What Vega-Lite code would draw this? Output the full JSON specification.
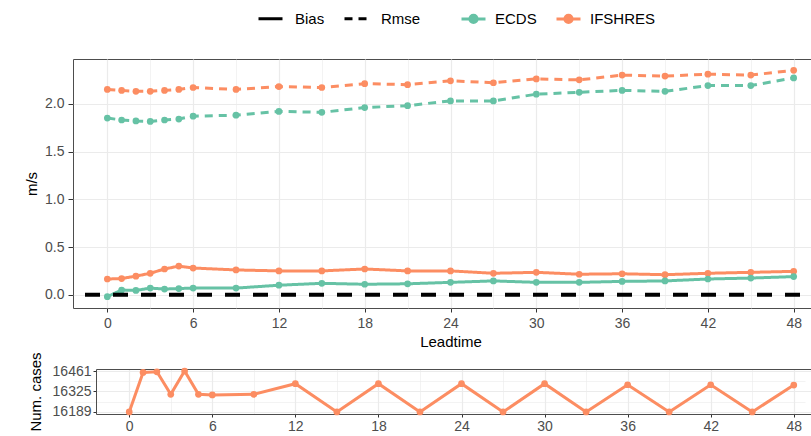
{
  "$schema": "https://vega.github.io/schema/vega-lite/v6.json",
  "padding": {"left": 24, "top": 5, "right": 0, "bottom": 0},
  "background": "white",
  "spacing": 1,
  "config": {
    "font": "Liberation Sans",
    "view": {"stroke": null},
    "axis": {
      "labelFontSize": 14,
      "labelColor": "#4d4d4d",
      "titleFontSize": 15,
      "titleColor": "black",
      "titleFontWeight": "normal",
      "tickColor": "#333333",
      "tickWidth": 1,
      "gridColor": "#ebebeb",
      "domainColor": "#4d4d4d",
      "domainWidth": 1
    }
  },
  "datasets": {
    "scores": [
      {"leadtime":0,"model":"IFSHRES","metric":"Rmse","value":2.15},
      {"leadtime":1,"model":"IFSHRES","metric":"Rmse","value":2.14},
      {"leadtime":2,"model":"IFSHRES","metric":"Rmse","value":2.13},
      {"leadtime":3,"model":"IFSHRES","metric":"Rmse","value":2.13},
      {"leadtime":4,"model":"IFSHRES","metric":"Rmse","value":2.14},
      {"leadtime":5,"model":"IFSHRES","metric":"Rmse","value":2.15},
      {"leadtime":6,"model":"IFSHRES","metric":"Rmse","value":2.17},
      {"leadtime":9,"model":"IFSHRES","metric":"Rmse","value":2.15},
      {"leadtime":12,"model":"IFSHRES","metric":"Rmse","value":2.18},
      {"leadtime":15,"model":"IFSHRES","metric":"Rmse","value":2.17},
      {"leadtime":18,"model":"IFSHRES","metric":"Rmse","value":2.21},
      {"leadtime":21,"model":"IFSHRES","metric":"Rmse","value":2.20},
      {"leadtime":24,"model":"IFSHRES","metric":"Rmse","value":2.24},
      {"leadtime":27,"model":"IFSHRES","metric":"Rmse","value":2.22},
      {"leadtime":30,"model":"IFSHRES","metric":"Rmse","value":2.26},
      {"leadtime":33,"model":"IFSHRES","metric":"Rmse","value":2.25},
      {"leadtime":36,"model":"IFSHRES","metric":"Rmse","value":2.30},
      {"leadtime":39,"model":"IFSHRES","metric":"Rmse","value":2.29},
      {"leadtime":42,"model":"IFSHRES","metric":"Rmse","value":2.31},
      {"leadtime":45,"model":"IFSHRES","metric":"Rmse","value":2.30},
      {"leadtime":48,"model":"IFSHRES","metric":"Rmse","value":2.35},
      {"leadtime":0,"model":"ECDS","metric":"Rmse","value":1.85},
      {"leadtime":1,"model":"ECDS","metric":"Rmse","value":1.83},
      {"leadtime":2,"model":"ECDS","metric":"Rmse","value":1.82},
      {"leadtime":3,"model":"ECDS","metric":"Rmse","value":1.815},
      {"leadtime":4,"model":"ECDS","metric":"Rmse","value":1.83},
      {"leadtime":5,"model":"ECDS","metric":"Rmse","value":1.84},
      {"leadtime":6,"model":"ECDS","metric":"Rmse","value":1.87},
      {"leadtime":9,"model":"ECDS","metric":"Rmse","value":1.88},
      {"leadtime":12,"model":"ECDS","metric":"Rmse","value":1.92},
      {"leadtime":15,"model":"ECDS","metric":"Rmse","value":1.91},
      {"leadtime":18,"model":"ECDS","metric":"Rmse","value":1.96},
      {"leadtime":21,"model":"ECDS","metric":"Rmse","value":1.98},
      {"leadtime":24,"model":"ECDS","metric":"Rmse","value":2.03},
      {"leadtime":27,"model":"ECDS","metric":"Rmse","value":2.03},
      {"leadtime":30,"model":"ECDS","metric":"Rmse","value":2.10},
      {"leadtime":33,"model":"ECDS","metric":"Rmse","value":2.12},
      {"leadtime":36,"model":"ECDS","metric":"Rmse","value":2.14},
      {"leadtime":39,"model":"ECDS","metric":"Rmse","value":2.13},
      {"leadtime":42,"model":"ECDS","metric":"Rmse","value":2.19},
      {"leadtime":45,"model":"ECDS","metric":"Rmse","value":2.19},
      {"leadtime":48,"model":"ECDS","metric":"Rmse","value":2.27},
      {"leadtime":0,"model":"IFSHRES","metric":"Bias","value":0.165},
      {"leadtime":1,"model":"IFSHRES","metric":"Bias","value":0.17},
      {"leadtime":2,"model":"IFSHRES","metric":"Bias","value":0.195},
      {"leadtime":3,"model":"IFSHRES","metric":"Bias","value":0.225},
      {"leadtime":4,"model":"IFSHRES","metric":"Bias","value":0.27},
      {"leadtime":5,"model":"IFSHRES","metric":"Bias","value":0.30},
      {"leadtime":6,"model":"IFSHRES","metric":"Bias","value":0.28},
      {"leadtime":9,"model":"IFSHRES","metric":"Bias","value":0.26},
      {"leadtime":12,"model":"IFSHRES","metric":"Bias","value":0.25},
      {"leadtime":15,"model":"IFSHRES","metric":"Bias","value":0.25},
      {"leadtime":18,"model":"IFSHRES","metric":"Bias","value":0.27},
      {"leadtime":21,"model":"IFSHRES","metric":"Bias","value":0.25},
      {"leadtime":24,"model":"IFSHRES","metric":"Bias","value":0.25},
      {"leadtime":27,"model":"IFSHRES","metric":"Bias","value":0.225},
      {"leadtime":30,"model":"IFSHRES","metric":"Bias","value":0.235},
      {"leadtime":33,"model":"IFSHRES","metric":"Bias","value":0.215},
      {"leadtime":36,"model":"IFSHRES","metric":"Bias","value":0.22},
      {"leadtime":39,"model":"IFSHRES","metric":"Bias","value":0.21},
      {"leadtime":42,"model":"IFSHRES","metric":"Bias","value":0.225},
      {"leadtime":45,"model":"IFSHRES","metric":"Bias","value":0.235},
      {"leadtime":48,"model":"IFSHRES","metric":"Bias","value":0.245},
      {"leadtime":0,"model":"ECDS","metric":"Bias","value":-0.02},
      {"leadtime":1,"model":"ECDS","metric":"Bias","value":0.05},
      {"leadtime":2,"model":"ECDS","metric":"Bias","value":0.045},
      {"leadtime":3,"model":"ECDS","metric":"Bias","value":0.07},
      {"leadtime":4,"model":"ECDS","metric":"Bias","value":0.06},
      {"leadtime":5,"model":"ECDS","metric":"Bias","value":0.065},
      {"leadtime":6,"model":"ECDS","metric":"Bias","value":0.07},
      {"leadtime":9,"model":"ECDS","metric":"Bias","value":0.07},
      {"leadtime":12,"model":"ECDS","metric":"Bias","value":0.10},
      {"leadtime":15,"model":"ECDS","metric":"Bias","value":0.12},
      {"leadtime":18,"model":"ECDS","metric":"Bias","value":0.11},
      {"leadtime":21,"model":"ECDS","metric":"Bias","value":0.115},
      {"leadtime":24,"model":"ECDS","metric":"Bias","value":0.13},
      {"leadtime":27,"model":"ECDS","metric":"Bias","value":0.145},
      {"leadtime":30,"model":"ECDS","metric":"Bias","value":0.13},
      {"leadtime":33,"model":"ECDS","metric":"Bias","value":0.13},
      {"leadtime":36,"model":"ECDS","metric":"Bias","value":0.14},
      {"leadtime":39,"model":"ECDS","metric":"Bias","value":0.145},
      {"leadtime":42,"model":"ECDS","metric":"Bias","value":0.165},
      {"leadtime":45,"model":"ECDS","metric":"Bias","value":0.175},
      {"leadtime":48,"model":"ECDS","metric":"Bias","value":0.19}
    ],
    "zero": [{"value": 0}],
    "cases": [
      {"leadtime":0,"model":"IFSHRES","cases":16189},
      {"leadtime":1,"model":"IFSHRES","cases":16452},
      {"leadtime":2,"model":"IFSHRES","cases":16456},
      {"leadtime":3,"model":"IFSHRES","cases":16306},
      {"leadtime":4,"model":"IFSHRES","cases":16461},
      {"leadtime":5,"model":"IFSHRES","cases":16306},
      {"leadtime":6,"model":"IFSHRES","cases":16302},
      {"leadtime":9,"model":"IFSHRES","cases":16306},
      {"leadtime":12,"model":"IFSHRES","cases":16377},
      {"leadtime":15,"model":"IFSHRES","cases":16189},
      {"leadtime":18,"model":"IFSHRES","cases":16377},
      {"leadtime":21,"model":"IFSHRES","cases":16189},
      {"leadtime":24,"model":"IFSHRES","cases":16377},
      {"leadtime":27,"model":"IFSHRES","cases":16189},
      {"leadtime":30,"model":"IFSHRES","cases":16377},
      {"leadtime":33,"model":"IFSHRES","cases":16189},
      {"leadtime":36,"model":"IFSHRES","cases":16370},
      {"leadtime":39,"model":"IFSHRES","cases":16189},
      {"leadtime":42,"model":"IFSHRES","cases":16370},
      {"leadtime":45,"model":"IFSHRES","cases":16189},
      {"leadtime":48,"model":"IFSHRES","cases":16368}
    ]
  },
  "vconcat": [
    {
      "width": 755,
      "height": 249,
      "view": {"stroke": "#4d4d4d", "strokeWidth": 1},
      "layer": [
        {
          "data": {"name": "scores"},
          "mark": {"type": "line", "strokeWidth": 3},
          "encoding": {
            "x": {
              "field": "leadtime", "type": "quantitative",
              "scale": {"domain": [-2.4, 50.4], "nice": false, "zero": false},
              "axis": {
                "title": "Leadtime",
                "domain": false,
                "labelOverlap": false,
                "values": [0,3,6,9,12,15,18,21,24,27,30,33,36,39,42,45,48],
                "format": "d",
                "labelExpr": "datum.value % 6 == 0 ? datum.label : ''",
                "tickOpacity": {"condition": {"test": "datum.value % 6 == 0", "value": 1}, "value": 0},
                "gridWidth": {"condition": {"test": "datum.value % 6 == 0", "value": 1.2}, "value": 0.6},
                "tickSize": 4,
                "labelPadding": 4,
                "titlePadding": 4
              }
            },
            "y": {
              "field": "value", "type": "quantitative",
              "scale": {"domain": [-0.1385, 2.4685], "nice": false, "zero": false},
              "axis": {
                "title": "m/s",
                "domain": false,
                "labelOverlap": false,
                "values": [0,0.25,0.5,0.75,1,1.25,1.5,1.75,2,2.25],
                "format": ".1f",
                "labelExpr": "(datum.value * 4) % 2 == 0 ? datum.label : ''",
                "tickOpacity": {"condition": {"test": "(datum.value * 4) % 2 == 0", "value": 1}, "value": 0},
                "gridWidth": {"condition": {"test": "(datum.value * 4) % 2 == 0", "value": 1.2}, "value": 0.6},
                "tickSize": 5,
                "labelPadding": 4,
                "titlePadding": 5
              }
            },
            "color": {
              "field": "model", "type": "nominal",
              "scale": {"domain": ["ECDS", "IFSHRES"], "range": ["#66C2A5", "#FC8D62"]},
              "legend": {
                "orient": "none", "legendX": 387, "legendY": -54,
                "direction": "horizontal", "title": null, "padding": 0,
                "symbolType": "M-1,0L1,0M-0.3,0A0.3,0.3 0 1,0 0.3,0A0.3,0.3 0 1,0 -0.3,0Z",
                "symbolSize": 576,
                "labelFontSize": 15, "labelColor": "black", "labelOffset": 8, "columnPadding": 13,
                "encode": {"symbols": {"update": {
                  "fill": {"scale": "color", "field": "value"},
                  "stroke": {"scale": "color", "field": "value"},
                  "strokeWidth": {"value": 3},
                  "opacity": {"value": 1}
                }}}
              }
            },
            "strokeDash": {
              "field": "metric", "type": "nominal",
              "scale": {"domain": ["Bias", "Rmse"], "range": [[1, 0], [8, 6]]},
              "legend": {
                "orient": "none", "legendX": 184, "legendY": -54,
                "direction": "horizontal", "title": null, "padding": 0,
                "symbolType": "stroke", "symbolSize": 576, "symbolStrokeWidth": 3,
                "symbolStrokeColor": "black",
                "labelFontSize": 15, "labelColor": "black", "labelOffset": 11, "columnPadding": 13
              }
            }
          }
        },
        {
          "data": {"name": "scores"},
          "mark": {"type": "circle", "size": 45, "opacity": 1},
          "encoding": {
            "x": {"field": "leadtime", "type": "quantitative"},
            "y": {"field": "value", "type": "quantitative"},
            "color": {"field": "model", "type": "nominal"}
          }
        },
        {
          "data": {"name": "zero"},
          "mark": {"type": "rule", "color": "black", "strokeWidth": 4, "strokeDash": [15, 13]},
          "encoding": {"y": {"field": "value", "type": "quantitative"}}
        }
      ]
    },
    {
      "width": 755,
      "height": 45,
      "data": {"name": "cases"},
      "resolve": {"axis": {"x": "independent", "y": "independent"}},
      "layer": [
        {
          "mark": {"type": "line", "strokeWidth": 3, "color": "#FC8D62"},
          "encoding": {
            "x": {
              "field": "leadtime", "type": "quantitative",
              "scale": {"domain": [-2.4, 50.4], "range": [23, 754], "nice": false, "zero": false},
              "axis": {
                "title": null,
                "labelOverlap": false,
                "values": [0,3,6,9,12,15,18,21,24,27,30,33,36,39,42,45,48],
                "format": "d",
                "labelExpr": "datum.value % 6 == 0 ? datum.label : ''",
                "tickOpacity": {"condition": {"test": "datum.value % 6 == 0", "value": 1}, "value": 0},
                "gridWidth": {"condition": {"test": "datum.value % 6 == 0", "value": 1.2}, "value": 0.6},
                "tickSize": 3,
                "labelPadding": 2
              }
            },
            "y": {
              "field": "cases", "type": "quantitative",
              "scale": {"domain": [16175.4, 16474.6], "nice": false, "zero": false},
              "axis": {
                "title": "Num. cases",
                "orient": "left",
                "offset": -23,
                "labelOverlap": false,
                "values": [16189, 16325, 16461],
                "format": "d",
                "gridWidth": 1.2,
                "tickSize": 3,
                "labelPadding": 2,
                "titlePadding": 9
              }
            }
          }
        },
        {
          "mark": {"type": "circle", "size": 45, "opacity": 1, "color": "#FC8D62"},
          "encoding": {
            "x": {
              "field": "leadtime", "type": "quantitative",
              "axis": {"orient": "top", "labels": false, "ticks": false, "title": null, "grid": false, "domain": true}
            },
            "y": {
              "field": "cases", "type": "quantitative",
              "axis": {"orient": "right", "labels": false, "ticks": false, "title": null, "domain": false, "grid": true, "gridWidth": 0.6, "values": [16257, 16393]}
            }
          }
        }
      ]
    }
  ]
}
